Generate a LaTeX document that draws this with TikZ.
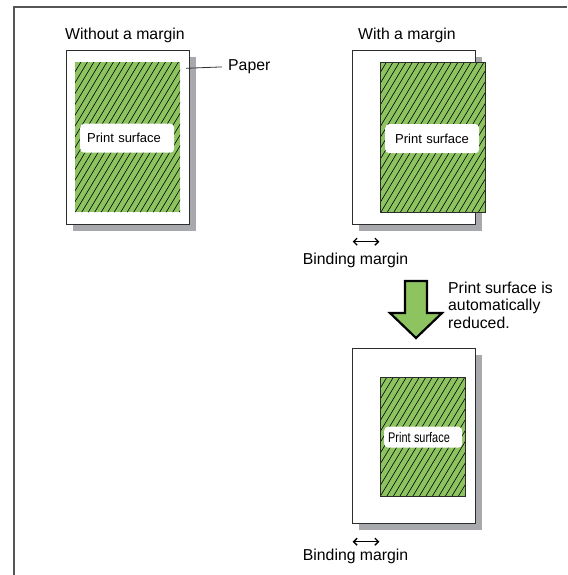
\documentclass[tikz,border=0pt]{standalone}
\usepackage{graphicx}
\usepackage{fontspec}
\setmainfont{Liberation Sans}
\usetikzlibrary{arrows.meta,shadows}
\definecolor{printgreen}{RGB}{141,196,96}
\definecolor{shadowgray}{RGB}{167,169,172}
\definecolor{framegray}{RGB}{85,85,85}
\definecolor{edgegray}{RGB}{45,45,45}
\begin{document}
\begin{tikzpicture}[x=1pt,y=-1pt,
  paper/.style={draw=edgegray, line width=1.2pt, fill=white, anchor=north west, inner sep=0pt,
    drop shadow={shadow xshift=6pt, shadow yshift=-6pt, fill=shadowgray, opacity=1}},
  surface/.style={fill=printgreen, anchor=north west, inner sep=0pt,
    path picture={\foreach \i in {-20,...,22} \draw[black, line width=0.6pt]
      (path picture bounding box.south west) ++(\i*6.5pt,0pt) -- ++(59:300pt);}},
  edged/.style={draw=edgegray, line width=1.2pt},
  lbl/.style={fill=white, rounded corners=4pt, anchor=north west, align=left, inner ysep=0pt,
    font=\fontsize{13}{14}\selectfont},
  txt/.style={font=\fontsize{15.8}{17.5}\selectfont, inner sep=0pt},
  dbl/.style={line width=1.3pt, arrows={Straight Barb[length=3.5pt,width=7pt]-Straight Barb[length=3.5pt,width=7pt]}},
  bigarrow/.style={fill=printgreen, draw=black, line width=2.2pt, line join=miter}
]
\useasboundingbox (0,0) rectangle (567,575);
% frame
\draw[framegray, line width=2pt] (14,575) -- (14,7) -- (567,7);

% panel 1
\node[txt, anchor=base west] (t1) at (65,39.7) {Without a margin};
\node[paper, minimum width=123pt, minimum height=174pt] (paper1) at (66,50) {};
\node[surface, minimum width=105pt, minimum height=150pt] (surf1) at (75,62) {};
\node[lbl, inner xsep=7pt, text width=80pt, minimum height=29pt] (lbl1) at (80,123.5) {Print surface};
\node[txt, anchor=base west] (plabel) at (228,70.7) {Paper};
\coordinate (ppt) at (186,68.3);
\draw[line width=0.8pt, edgegray] (ppt) -- ([xshift=-6pt]plabel.west);

% panel 2
\node[txt, anchor=base west] (t2) at (358,39.7) {With a margin};
\node[paper, minimum width=123pt, minimum height=174pt] (paper2) at (352,50) {};
\node[surface, edged, minimum width=105pt, minimum height=150pt] (surf2) at (380,62) {};
\node[lbl, inner xsep=10pt, text width=74pt, minimum height=29pt] (lbl2) at (385,124) {Print surface};
\coordinate (a1l) at (352.7,241.7);
\coordinate (a1r) at (379.3,241.7);
\draw[dbl] (a1l) -- (a1r);
\node[txt, anchor=base west] (bm1) at (302.7,264) {Binding margin};

% arrow and note
\draw[bigarrow] (405,281) -- (427,281) -- (427,313) -- (442,313) -- (416,338) -- (390,313) -- (405,313) -- cycle;
\node[txt, anchor=north west, align=left] (note) at (448,281.8) {Print surface is\\automatically\\reduced.};

% panel 3
\node[paper, minimum width=123pt, minimum height=175pt] (paper3) at (352,348) {};
\node[surface, edged, minimum width=85pt, minimum height=119pt] (surf3) at (379.5,377) {};
\node[lbl, inner xsep=4pt, text width=70pt, minimum height=21pt] (lbl3) at (384,426.5) {\fontsize{14}{15}\selectfont\scalebox{0.78}[1]{Print surface}};
\coordinate (a2l) at (352.7,541.7);
\coordinate (a2r) at (379.3,541.7);
\draw[dbl] (a2l) -- (a2r);
\node[txt, anchor=base west] (bm2) at (302.7,560) {Binding margin};
\end{tikzpicture}
\end{document}
